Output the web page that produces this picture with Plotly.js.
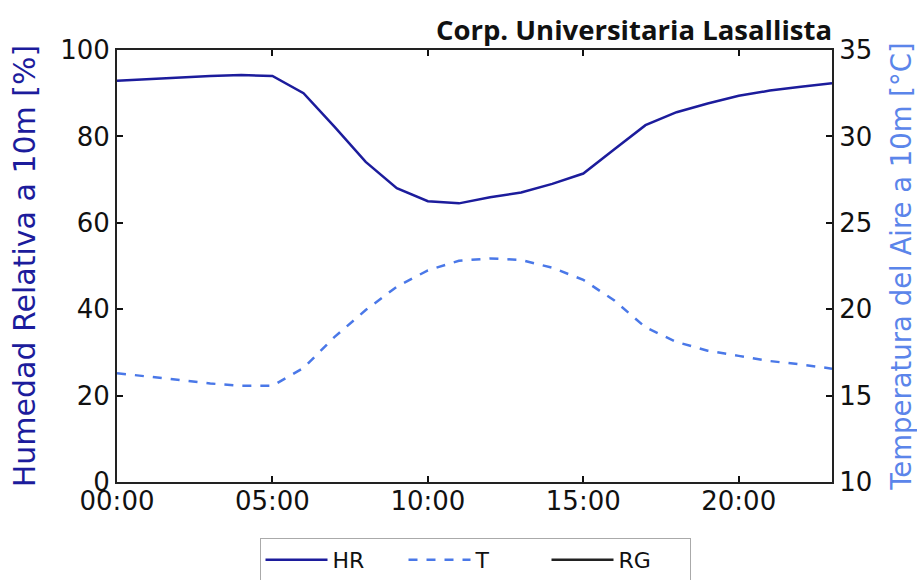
<!DOCTYPE html>
<html>
<head>
<meta charset="utf-8">
<script src="https://cdn.plot.ly/plotly-3.0.1.min.js"></script>
<style>html,body{margin:0;padding:0;background:#fff;}#chart{width:917px;height:580px;}</style>
</head>
<body>
<div id="chart"></div>
<script>
const hours = [0,1,2,3,4,5,6,7,8,9,10,11,12,13,14,15,16,17,18,19,20,21,22,23];
const hrValues = [92.9,93.3,93.7,94.0,94.2,94.0,90.0,82.2,74.1,68.0,65.0,64.5,65.9,67.0,69.0,71.4,77.0,82.6,85.6,87.6,89.4,90.6,91.5,92.3];
const tValues = [16.3,16.1,15.9,15.7,15.57,15.57,16.6,18.4,19.95,21.3,22.25,22.8,22.94,22.85,22.4,21.7,20.5,18.95,18.1,17.6,17.3,17.0,16.8,16.56];
const rgHours = [];
const rgValues = [];
const xTickVals = [0,5,10,15,20];
const xTickText = ['00:00','05:00','10:00','15:00','20:00'];
const leftTicks = [0,20,40,60,80,100];
const rightTicks = [10,15,20,25,30,35];

const font = 'DejaVu Sans, sans-serif';
const traces = [
  {x: hours, y: hrValues, name: 'HR', type: 'scatter', mode: 'lines',
   line: {color: '#1c1c9c', width: 2.5}, yaxis: 'y'},
  {x: hours, y: tValues, name: 'T', type: 'scatter', mode: 'lines',
   line: {color: '#4a78e8', width: 2.5, dash: 'dash'}, yaxis: 'y2'},
  {x: rgHours.length ? rgHours : [null], y: rgValues.length ? rgValues : [null], name: 'RG', type: 'scatter', mode: 'lines',
   line: {color: '#222222', width: 2.5}, yaxis: 'y'}
];
const axCommon = {
  showgrid: false, zeroline: false, showline: true, linecolor: '#222', linewidth: 2,
  ticks: 'inside', ticklen: 6, tickwidth: 2, tickcolor: '#111', automargin: false,
  tickfont: {family: font, size: 26, color: '#111'}
};
const layout = {
  width: 917, height: 580,
  margin: {l: 117, r: 85, t: 50, b: 98},
  paper_bgcolor: '#fff', plot_bgcolor: '#fff',
  font: {family: font},
  title: {text: '<b>Corp. Universitaria Lasallista</b>', x: 1, xanchor: 'right', xref: 'paper', y: 1 - 30/580, yref: 'container', yanchor: 'middle',
          font: {family: 'Open Sans, sans-serif', size: 27.5, color: '#111'}},
  xaxis: Object.assign({}, axCommon, {range: [0, 23], tickvals: xTickVals, ticktext: xTickText, mirror: 'ticks', ticklabelstandoff: -5}),
  yaxis: Object.assign({}, axCommon, {range: [0, 100], tickvals: leftTicks, mirror: true,
    title: {text: 'Humedad Relativa a 10m [%]', font: {family: font, size: 30, color: '#1c1c9c'}, standoff: 16}}),
  yaxis2: Object.assign({}, axCommon, {range: [10, 35], tickvals: rightTicks, overlaying: 'y', side: 'right',
    title: {text: 'Temperatura del Aire a 10m [°C]', font: {family: font, size: 27.5, color: '#5b85ea'}, standoff: 21}}),
  showlegend: true,
  legend: {orientation: 'h', x: 475/917, xref: 'container', xanchor: 'center', y: 42/580, yref: 'container', yanchor: 'top',
    bordercolor: '#aaa', borderwidth: 1, bgcolor: '#fff',
    font: {family: font, size: 22, color: '#111'}, entrywidth: 66, itemwidth: 62}
};
Plotly.newPlot('chart', traces, layout, {displayModeBar: false});
</script>
</body>
</html>
